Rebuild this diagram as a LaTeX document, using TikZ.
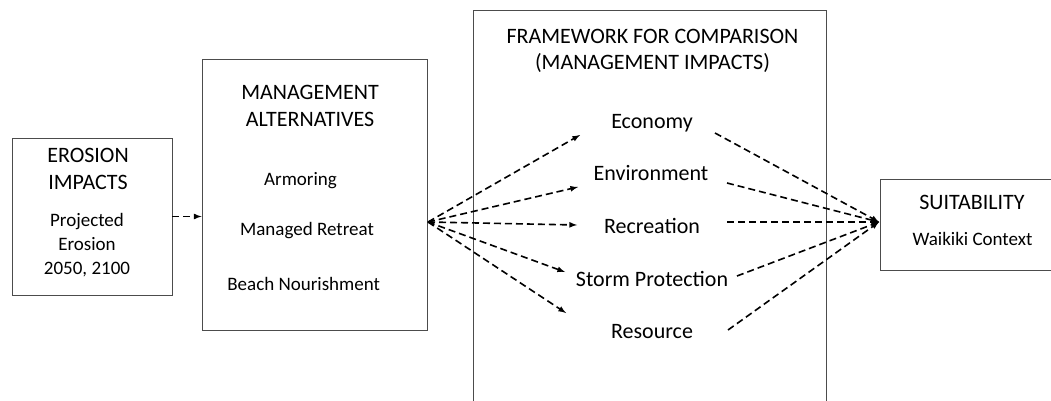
\documentclass[tikz,border=0pt]{standalone}
\usepackage{fontspec}
\setmainfont{Carlito}
\usetikzlibrary{arrows,positioning}
\tikzset{%
	block/.style     = {draw=black!70, line width=0.9pt, rectangle, inner sep=0pt}, % Box
	head/.style      = {font=\fontsize{22}{26.6}\selectfont, align=center, anchor=base}, % Box title
	item/.style      = {font=\fontsize{19}{23.7}\selectfont, align=center, anchor=base}, % Box text
	impact/.style    = {font=\fontsize{22}{25}\selectfont, anchor=base}, % Impact
	dasharrow/.style = {line width=1.6pt, dash pattern=on 7pt off 4pt, -latex},
}

\begin{document}
\begin{tikzpicture}[x=1pt,y=-1pt]
	\useasboundingbox (0,0) rectangle (1051,401);
	
	\node[block, minimum width=160pt, minimum height=157pt] (erosion) at (92,216.5) {};
	\node[block, minimum width=225pt, minimum height=271pt] (mgmt) at (314.5,194.5) {};
	\node[block, minimum width=353pt, minimum height=420pt] (frame) at (649.5,220) {};
	\node[block, minimum width=184pt, minimum height=91pt] (suit) at (972,224.5) {};
	
	% titles sit on the baseline of their last line
	\node[head] (erosiontitle) at (88,189.3) {EROSION\\IMPACTS};
	\node[item] (erosiontext) at (87,274) {Projected\\Erosion\\2050, 2100};
	
	\node[head] (mgmttitle) at (310,126) {MANAGEMENT\\ALTERNATIVES};
	\node[item] (armoring) at (300.5,185) {Armoring};
	\node[item] (retreat) at (307,235) {Managed Retreat};
	\node[item] (nourish) at (303.7,290) {Beach Nourishment};
	
	\node[head] (frametitle) at (652.5,70) {FRAMEWORK FOR COMPARISON\\(MANAGEMENT IMPACTS)};
	\node[impact] (economy) at (652,128.3) {Economy};
	\node[impact] (environment) at (651,180) {Environment};
	\node[impact] (recreation) at (652,233.3) {Recreation};
	\node[impact] (storm) at (652,286) {Storm Protection};
	\node[impact] (resource) at (652,338.3) {Resource};
	
	\node[head] (suittitle) at (972,209.3) {SUITABILITY};
	\node[item] (context) at (972.5,245) {Waikiki Context};
	
	% arrow ends
	\coordinate (fan) at (428,222);
	\coordinate (sink) at (879,222);
	\coordinate (economyin) at (580,135);
	\coordinate (environmentin) at (578,187);
	\coordinate (recreationin) at (577,225);
	\coordinate (stormin) at (565,272);
	\coordinate (resourcein) at (566,313);
	\coordinate (economyout) at (715,133);
	\coordinate (environmentout) at (727,183);
	\coordinate (recreationout) at (727,222);
	\coordinate (stormout) at (737,276);
	\coordinate (resourceout) at (728,330);
	
	\draw[dasharrow] (erosion.east) -- (erosion.east -| mgmt.west);
	\foreach \imp in {economy,environment,recreation,storm,resource} {
		\draw[dasharrow] (fan) -- (\imp in);
		\draw[dasharrow] (\imp out) -- (sink);
	}
	
\end{tikzpicture}
\end{document}
